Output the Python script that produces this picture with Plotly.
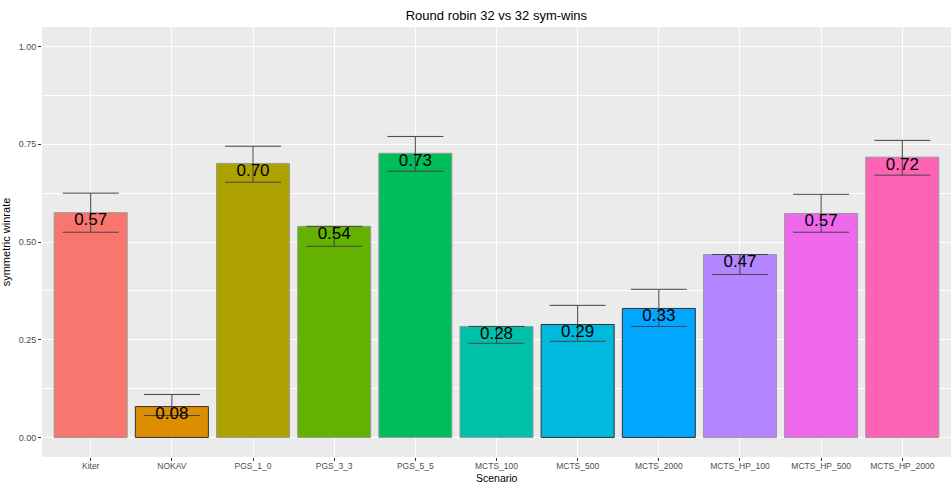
import plotly.graph_objects as go

scenarios = ["Kiter", "NOKAV", "PGS_1_0", "PGS_3_3", "PGS_5_5", "MCTS_100", "MCTS_500",
             "MCTS_2000", "MCTS_HP_100", "MCTS_HP_500", "MCTS_HP_2000"]
winrate = [0.575, 0.079, 0.701, 0.540, 0.727, 0.284, 0.289, 0.330, 0.468, 0.573, 0.717]
err_high = [0.625, 0.110, 0.745, 0.540, 0.770, 0.284, 0.338, 0.379, 0.468, 0.622, 0.760]
err_low = [0.525, 0.056, 0.653, 0.489, 0.681, 0.241, 0.246, 0.284, 0.417, 0.525, 0.671]
labels = ["0.57", "0.08", "0.70", "0.54", "0.73", "0.28", "0.29", "0.33", "0.47", "0.57", "0.72"]

colors = ["#F8766D", "#DB8E00", "#AEA200", "#64B200", "#00BD5C", "#00C1A7", "#00BADE",
          "#00A6FF", "#B385FF", "#EF67EB", "#FF63B6"]
outline = ["#9a9a9a", "#333333", "#9a9a9a", "#9a9a9a", "#9a9a9a", "#9a9a9a", "#333333",
           "#333333", "#9a9a9a", "#9a9a9a", "#9a9a9a"]

plus = [h - v for h, v in zip(err_high, winrate)]
minus = [v - l for l, v in zip(err_low, winrate)]

fig = go.Figure()
fig.add_trace(go.Bar(
    x=scenarios, y=winrate, width=0.9,
    marker=dict(color=colors, line=dict(color=outline, width=1)),
    error_y=dict(type="data", symmetric=False, array=plus, arrayminus=minus,
                 color="#444444", thickness=1, width=28),
    showlegend=False, hoverinfo="x+y",
))
fig.add_trace(go.Scatter(
    x=scenarios, y=winrate, mode="text", text=labels,
    textposition="bottom center",
    textfont=dict(family="Liberation Sans, Arial", size=17, color="black"),
    showlegend=False, hoverinfo="skip",
))

fig.update_layout(
    width=951, height=483,
    margin=dict(l=42, r=0, t=27, b=26),
    paper_bgcolor="white", plot_bgcolor="#EBEBEB",
    font=dict(family="Liberation Sans, Arial", color="#4D4D4D"),
    title=dict(text="Round robin 32 vs 32 sym-wins", x=0.522, xanchor="center",
               y=0.968, yanchor="middle",
               font=dict(size=13, color="black")),
    bargap=0.1,
    annotations=[dict(text="Scenario", xref="paper", yref="paper", x=0.5, y=0,
                      xanchor="center", yanchor="middle", yshift=-21, showarrow=False,
                      borderpad=0,
                      font=dict(size=10.5, color="black"))],
)
fig.update_xaxes(
    type="category", range=[-0.6, 10.6],
    showgrid=True, gridcolor="white", gridwidth=1.3,
    ticks="outside", ticklen=3, tickcolor="#333333",
    tickfont=dict(size=8.5, color="#4D4D4D"),
    ticklabelstandoff=-2,
    zeroline=False, showline=False,
)
fig.update_yaxes(
    range=[-0.05, 1.05],
    tickvals=[0, 0.25, 0.5, 0.75, 1.0],
    ticktext=["0.00", "0.25", "0.50", "0.75", "1.00"],
    showgrid=True, gridcolor="white", gridwidth=1.3,
    minor=dict(tickvals=[0.125, 0.375, 0.625, 0.875], showgrid=True,
               gridcolor="white", gridwidth=0.6, ticks=""),
    ticks="outside", ticklen=3, tickcolor="#333333",
    tickfont=dict(size=9, color="#4D4D4D"),
    title=dict(text="symmetric winrate", font=dict(size=11, color="black"), standoff=6),
    zeroline=False, showline=False,
)

fig.write_html("out.html")
